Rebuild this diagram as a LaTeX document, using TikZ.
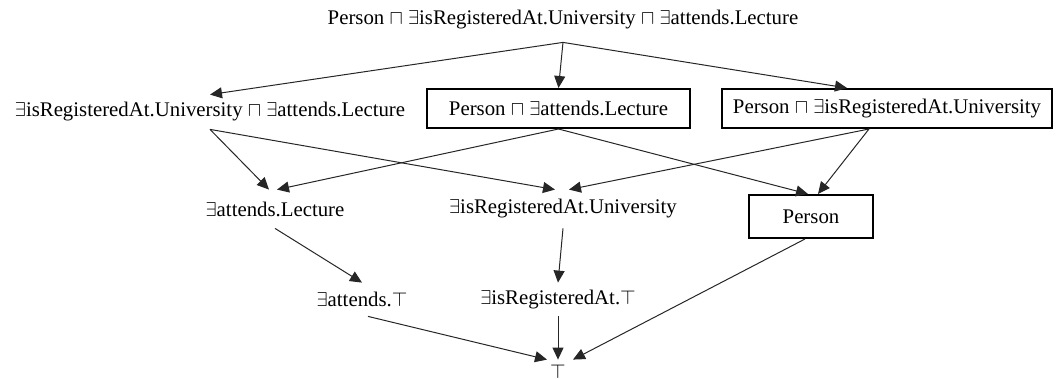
\documentclass[tikz,border=0pt]{standalone}
\usepackage{fontspec}
\setmainfont{Liberation Serif}
\usetikzlibrary{arrows.meta}
\definecolor{edge}{HTML}{262626}
\newcommand{\exs}{$\exists$}
\newcommand{\andc}{$\sqcap$}
\newcommand{\tc}{$\top$}
\tikzset{
  concept/.style={inner sep=0pt, minimum height=17pt},
  conceptbox/.style={draw=black, line width=1pt, inner sep=0pt, minimum height=19.5pt},
  arrow/.style={-{Triangle[length=6pt,width=5.5pt]}, line width=0.5pt, draw=edge}
}
\begin{document}
\begin{tikzpicture}[x=0.5pt, y=-0.5pt, font=\fontsize{10.4pt}{12pt}\selectfont]
  \useasboundingbox (0,0) rectangle (1056,379);
  \node[concept, minimum height=22pt] (all) at (563,20) {Person \andc{} \exs isRegisteredAt.University \andc{} \exs attends.Lecture};
  \node[concept] (regatt) at (210,112) {\exs isRegisteredAt.University \andc{} \exs attends.Lecture};
  \node[conceptbox, minimum width=131.5pt] (peratt) at (558.5,108.5) {Person \andc{} \exs attends.Lecture};
  \node[conceptbox, minimum width=165pt] (perreg) at (887,108.5) {Person \andc{} \exs isRegisteredAt.University};
  \node[concept, minimum height=19pt] (att) at (275,209) {\exs attends.Lecture};
  \node[concept, minimum height=19pt] (reg) at (563,209) {\exs isRegisteredAt.University};
  \node[conceptbox, minimum width=62pt, minimum height=21.5pt] (per) at (811,216.5) {Person};
  \node[concept, minimum height=16.5pt] (atttop) at (362,299.5) {\exs attends.\tc};
  \node[concept, minimum height=16.5pt] (regtop) at (558,299.5) {\exs isRegisteredAt.\tc};
  \node[concept, minimum height=12pt] (thing) at (558,372) {\tc};

  \draw[arrow] (all.south) -- (regatt.north);
  \draw[arrow] (all.south) -- (peratt.north);
  \draw[arrow] (all.south) -- ([xshift=-20pt]perreg.north);
  \draw[arrow] (regatt.south) -- ([xshift=-3pt]att.north);
  \draw[arrow] (regatt.south) -- ([xshift=-4pt]reg.north);
  \draw[arrow] (peratt.south) -- ([xshift=1pt]att.north);
  \draw[arrow] (peratt.south) -- ([xshift=-1.5pt]per.north);
  \draw[arrow] ([xshift=-9pt]perreg.south) -- ([xshift=3pt]reg.north);
  \draw[arrow] ([xshift=-9pt]perreg.south) -- ([xshift=3.5pt]per.north);
  \draw[arrow] (att.south) -- (atttop.north);
  \draw[arrow] (reg.south) -- (regtop.north);
  \draw[arrow] ([xshift=-3pt]per.south) -- ([xshift=7.5pt]thing.north);
  \draw[arrow] ([xshift=3pt]atttop.south) -- ([xshift=-5.5pt]thing.north);
  \draw[arrow] (regtop.south) -- (thing.north);
\end{tikzpicture}
\end{document}
